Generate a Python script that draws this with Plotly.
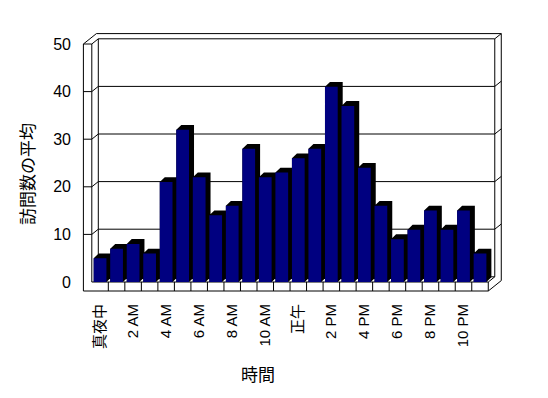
import plotly.graph_objects as go

# ---------------- data ----------------
hours = ["真夜中", "1 AM", "2 AM", "3 AM", "4 AM", "5 AM", "6 AM", "7 AM", "8 AM", "9 AM",
         "10 AM", "11 AM", "正午", "1 PM", "2 PM", "3 PM", "4 PM", "5 PM", "6 PM", "7 PM",
         "8 PM", "9 PM", "10 PM", "11 PM"]
visits = [5, 7, 8, 6, 21, 32, 22, 14, 16, 28, 22, 23, 26, 28, 41, 37, 24, 16, 9, 11, 15, 11, 15, 6]
x_tick_labels = ["真夜中", "2 AM", "4 AM", "6 AM", "8 AM", "10 AM", "正午", "2 PM", "4 PM",
                 "6 PM", "8 PM", "10 PM"]
y_ticks = [0, 10, 20, 30, 40, 50]
y_title = "訪問数の平均"
x_title = "時間"

# ---------------- geometry (pixels -> data units) ----------------
W, H = 548, 398
X0PX, CW = 91.8, 16.52      # left boundary of first category, px per category
Y0PX, VU = 282.0, 4.76      # pixel of value 0 (front plane), px per unit
ML, MR, MT, MB = 75, 43, 28, 103
xr = [(ML - X0PX) / CW - 0.5, (W - MR - X0PX) / CW - 0.5]
yr = [(Y0PX - (H - MB)) / VU, (Y0PX - MT) / VU]

DX, DY = 6.5 / CW, 5.2 / VU          # wall depth step
BDX, BDY = 5.0 / CW, 4.8 / VU        # bar depth
BW = 0.77                            # bar front width
XL = -0.5 - 8.4 / CW                 # outer left of left wall
XR = len(visits) - 0.5               # right end of floor
FB = -9.0 / VU                       # floor bottom
YMAX = max(y_ticks)

idx = list(range(len(visits)))

# bar silhouettes (black 3D sides) and faces
sx, sy, fx, fy = [], [], [], []
for i, v in zip(idx, visits):
    L, R = i - BW / 2, i + BW / 2
    sx += [L, L, L + BDX, R + BDX, R + BDX, R, L, None]
    sy += [0, v, v + BDY, v + BDY, BDY, 0, 0, None]
    fx += [L, L, R, R, L, None]
    fy += [0, v, v, 0, 0, None]

fig = go.Figure()
fig.add_trace(go.Scatter(x=sx, y=sy, mode="lines", fill="toself", fillcolor="black",
                         line=dict(width=0, color="black"), hoverinfo="skip", showlegend=False))
fig.add_trace(go.Scatter(x=fx, y=fy, mode="lines", fill="toself", fillcolor="#000080",
                         line=dict(width=0, color="#000080"), hoverinfo="skip", showlegend=False))

# ---------------- 3D frame lines ----------------
segs = []
def seg(x0, y0, x1, y1):
    segs.append(dict(type="line", xref="x", yref="y", x0=x0, y0=y0, x1=x1, y1=y1,
                     line=dict(color="black", width=1), layer="below"))

# left wall
seg(XL, FB, XL, YMAX)
seg(-0.5, 0, -0.5, YMAX)
seg(XL, YMAX, -0.5, YMAX)
seg(XL, YMAX, XL + 2 * DX, YMAX + 2 * DY)
seg(-0.5, YMAX, -0.5 + DX, YMAX + DY)
# back wall
seg(-0.5 + DX, DY, -0.5 + DX, YMAX + DY)
seg(-0.5 + DX, YMAX + DY, XR + DX, YMAX + DY)
seg(XL + 2 * DX, YMAX + 2 * DY, XR + 2 * DX, YMAX + 2 * DY)
seg(XR + DX, YMAX + DY, XR + DX, DY)
seg(XR + DX, YMAX + DY, XR + 2 * DX, YMAX + 2 * DY)
seg(XR + 2 * DX, YMAX + 2 * DY, XR + 2 * DX, FB + 2 * DY)
# floor
seg(XL, FB, XR, FB)
seg(-0.5, 0, XR, 0)
seg(XR, FB, XR, 0)
for k in idx[:-1]:
    seg(k + 0.5, FB, k + 0.5, 0)
seg(XR, FB, XR + 2 * DX, FB + 2 * DY)
seg(XR, 0, XR + DX, DY)
seg(-0.5 + DX, DY, XR + DX, DY)
# gridlines
for v in y_ticks[1:-1]:
    seg(XL, v, -0.5, v)
    seg(-0.5, v, -0.5 + DX, v + DY)
    seg(-0.5 + DX, v + DY, XR + DX, v + DY)
    seg(XR + DX, v + DY, XR + 2 * DX, v + 2 * DY)

FONT = "Liberation Sans, Arial, Noto Sans CJK JP, sans-serif"

fig.update_layout(
    width=W, height=H,
    margin=dict(l=ML, r=MR, t=MT, b=MB),
    paper_bgcolor="white", plot_bgcolor="white",
    shapes=segs,
    font=dict(family=FONT, color="black"),
    xaxis=dict(range=xr, showgrid=False, zeroline=False, showline=False,
               tickmode="array", tickvals=idx[::2], ticktext=x_tick_labels,
               tickangle=-90, ticks="", ticklabelstandoff=5,
               tickfont=dict(size=15, family=FONT, color="black"), fixedrange=True),
    yaxis=dict(range=yr, showgrid=False, zeroline=False, showline=False,
               tickmode="array", tickvals=y_ticks, ticktext=[str(v) for v in y_ticks],
               ticks="", ticklabelstandoff=3,
               tickfont=dict(size=16, family=FONT, color="black"), fixedrange=True),
    showlegend=False,
    annotations=[
        dict(text=x_title, xref="paper", yref="paper", x=(258 - ML) / (W - ML - MR),
             y=-(375 - (H - MB)) / (H - MT - MB), xanchor="center", yanchor="middle",
             showarrow=False, font=dict(size=17, family=FONT, color="black")),
        dict(text=y_title, xref="paper", yref="paper", x=-(ML - 28) / (W - ML - MR),
             y=((H - MB) - 174) / (H - MT - MB), xanchor="center", yanchor="middle",
             textangle=-90, showarrow=False, font=dict(size=17, family=FONT, color="black")),
    ],
)

fig.write_html("out.html", config={"displayModeBar": False},
               post_script="document.body.style.margin='0px';document.body.style.padding='0px';")
